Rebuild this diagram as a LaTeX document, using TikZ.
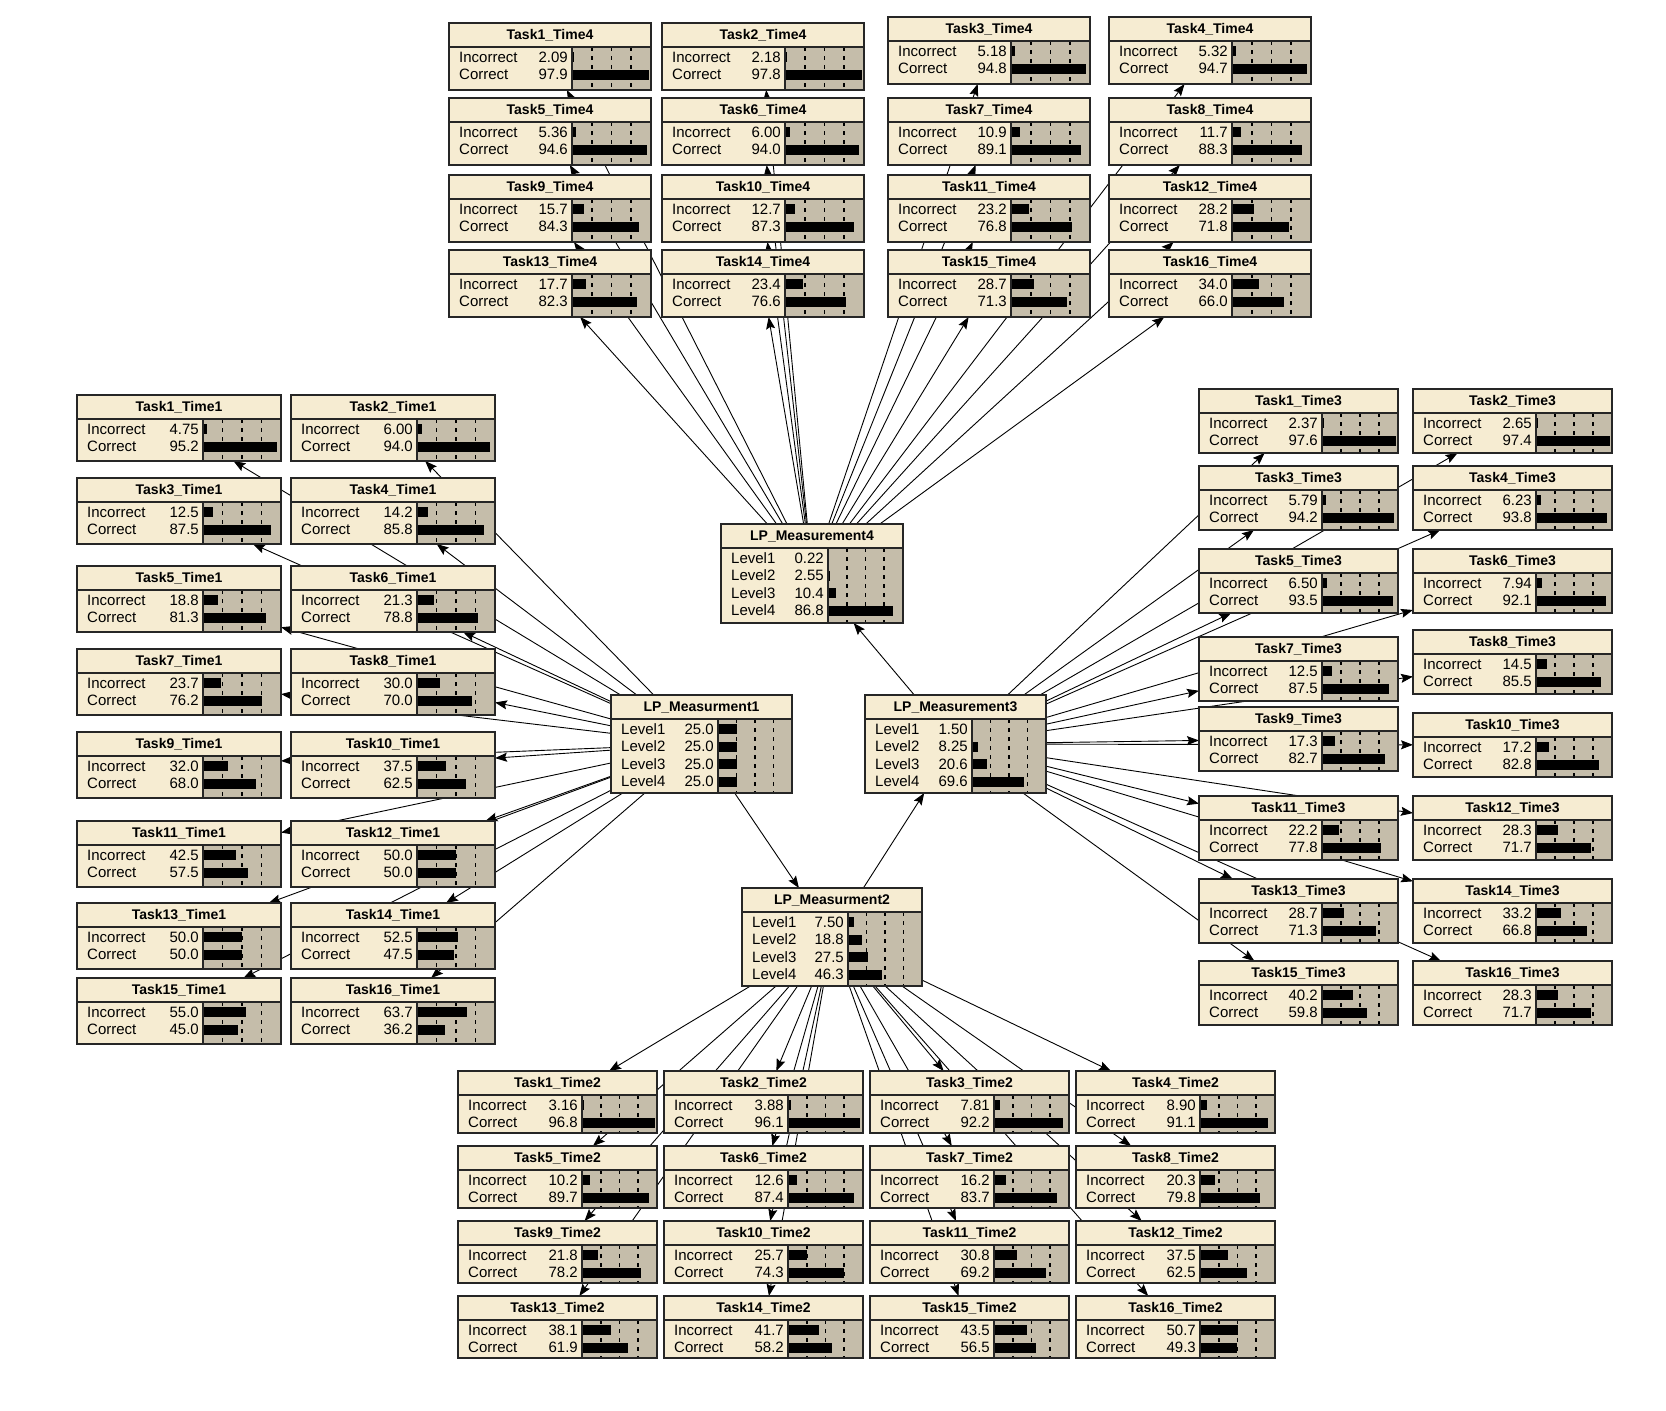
\documentclass[tikz,border=0pt]{standalone}
\usepackage{fontspec}
\setmainfont{Liberation Sans}
\usetikzlibrary{arrows.meta,backgrounds}

\definecolor{nodecream}{HTML}{F6ECD2}
\definecolor{bartan}{HTML}{C5BDAA}

\tikzset{
  bnbox/.style={rectangle,inner sep=0pt,outer sep=0pt,anchor=north west},
  bnframe/.style={draw=black!85,line width=1.4pt},
  bntick/.style={black,line width=1.6pt,dash pattern=on 4pt off 5pt},
  bntitle/.style={inner sep=0pt,font=\fontsize{14}{16}\selectfont\bfseries},
  bnstate/.style={inner sep=0pt,text height=10pt,text depth=0pt,font=\fontsize{15}{17}\selectfont},
  bnlink/.style={-{Stealth[length=12pt,width=9pt,inset=2pt]},line width=0.9pt},
}

% \bnnode{name}{left}{top}{width}{height}{label width}{title}{state/value,...}
\newcommand{\bnnode}[8]{%
  \pgfmathsetmacro{\bnbar}{#4-#6}%
  \node[bnbox,minimum width=#4pt,minimum height=#5pt] (#1) at (#2,#3) {};
  \fill[nodecream] (#2,#3) rectangle ++(#4,#5);
  \fill[bartan] ({#2+#6},{#3+24}) rectangle ({#2+#4},{#3+#5});
  \foreach \k in {1,2,3}
    \draw[bntick] ({#2+#6+\k*\bnbar/4},{#3+24}) -- ({#2+#6+\k*\bnbar/4},{#3+#5});
  \foreach \lbl/\val [count=\r] in {#8} {
    \fill ({#2+#6},{#3+11.5+17.5*\r}) rectangle ++({\val*\bnbar/100},10);
    \node[bnstate,anchor=west] at ({#2+10},{#3+16.5+17.5*\r}) {\lbl};
    \node[bnstate,anchor=east] at ({#2+#6-4},{#3+16.5+17.5*\r}) {\val};
  }
  \draw[bnframe] (#2,{#3+24}) -- ++(#4,0) ({#2+#6},{#3+24}) -- ({#2+#6},{#3+#5});
  \draw[bnframe] (#2,#3) rectangle ++(#4,#5);
  \node[bntitle] at ({#2+#4/2},{#3+12.5}) {#7};
}

\begin{document}
\begin{tikzpicture}[x=1pt,y=-1pt]
\useasboundingbox (0,0) rectangle (1666,1411);

% measurements
\bnnode{lp4}{721}{524}{182}{99}{107}{LP\_Measurement4}{Level1/0.22,Level2/2.55,Level3/10.4,Level4/86.8}
\bnnode{lp1}{611}{695}{181}{98}{107}{LP\_Measurment1}{Level1/25.0,Level2/25.0,Level3/25.0,Level4/25.0}
\bnnode{lp3}{865}{695}{181}{98}{107}{LP\_Measurement3}{Level1/1.50,Level2/8.25,Level3/20.6,Level4/69.6}
\bnnode{lp2}{742}{888}{180}{98}{106}{LP\_Measurment2}{Level1/7.50,Level2/18.8,Level3/27.5,Level4/46.3}

% time 4
\bnnode{time4task1}{449}{23}{202}{67}{123}{Task1\_Time4}{Incorrect/2.09,Correct/97.9}
\bnnode{time4task2}{662}{23}{202}{67}{123}{Task2\_Time4}{Incorrect/2.18,Correct/97.8}
\bnnode{time4task3}{888}{17}{202}{67}{123}{Task3\_Time4}{Incorrect/5.18,Correct/94.8}
\bnnode{time4task4}{1109}{17}{202}{67}{123}{Task4\_Time4}{Incorrect/5.32,Correct/94.7}
\bnnode{time4task5}{449}{98}{202}{67}{123}{Task5\_Time4}{Incorrect/5.36,Correct/94.6}
\bnnode{time4task6}{662}{98}{202}{67}{123}{Task6\_Time4}{Incorrect/6.00,Correct/94.0}
\bnnode{time4task7}{888}{98}{202}{67}{123}{Task7\_Time4}{Incorrect/10.9,Correct/89.1}
\bnnode{time4task8}{1109}{98}{202}{67}{123}{Task8\_Time4}{Incorrect/11.7,Correct/88.3}
\bnnode{time4task9}{449}{175}{202}{67}{123}{Task9\_Time4}{Incorrect/15.7,Correct/84.3}
\bnnode{time4task10}{662}{175}{202}{67}{123}{Task10\_Time4}{Incorrect/12.7,Correct/87.3}
\bnnode{time4task11}{888}{175}{202}{67}{123}{Task11\_Time4}{Incorrect/23.2,Correct/76.8}
\bnnode{time4task12}{1109}{175}{202}{67}{123}{Task12\_Time4}{Incorrect/28.2,Correct/71.8}
\bnnode{time4task13}{449}{250}{202}{67}{123}{Task13\_Time4}{Incorrect/17.7,Correct/82.3}
\bnnode{time4task14}{662}{250}{202}{67}{123}{Task14\_Time4}{Incorrect/23.4,Correct/76.6}
\bnnode{time4task15}{888}{250}{202}{67}{123}{Task15\_Time4}{Incorrect/28.7,Correct/71.3}
\bnnode{time4task16}{1109}{250}{202}{67}{123}{Task16\_Time4}{Incorrect/34.0,Correct/66.0}

% time 1
\bnnode{time1task1}{77}{395}{204}{66}{126}{Task1\_Time1}{Incorrect/4.75,Correct/95.2}
\bnnode{time1task2}{291}{395}{204}{66}{126}{Task2\_Time1}{Incorrect/6.00,Correct/94.0}
\bnnode{time1task3}{77}{478}{204}{66}{126}{Task3\_Time1}{Incorrect/12.5,Correct/87.5}
\bnnode{time1task4}{291}{478}{204}{66}{126}{Task4\_Time1}{Incorrect/14.2,Correct/85.8}
\bnnode{time1task5}{77}{566}{204}{66}{126}{Task5\_Time1}{Incorrect/18.8,Correct/81.3}
\bnnode{time1task6}{291}{566}{204}{66}{126}{Task6\_Time1}{Incorrect/21.3,Correct/78.8}
\bnnode{time1task7}{77}{649}{204}{66}{126}{Task7\_Time1}{Incorrect/23.7,Correct/76.2}
\bnnode{time1task8}{291}{649}{204}{66}{126}{Task8\_Time1}{Incorrect/30.0,Correct/70.0}
\bnnode{time1task9}{77}{732}{204}{66}{126}{Task9\_Time1}{Incorrect/32.0,Correct/68.0}
\bnnode{time1task10}{291}{732}{204}{66}{126}{Task10\_Time1}{Incorrect/37.5,Correct/62.5}
\bnnode{time1task11}{77}{821}{204}{66}{126}{Task11\_Time1}{Incorrect/42.5,Correct/57.5}
\bnnode{time1task12}{291}{821}{204}{66}{126}{Task12\_Time1}{Incorrect/50.0,Correct/50.0}
\bnnode{time1task13}{77}{903}{204}{66}{126}{Task13\_Time1}{Incorrect/50.0,Correct/50.0}
\bnnode{time1task14}{291}{903}{204}{66}{126}{Task14\_Time1}{Incorrect/52.5,Correct/47.5}
\bnnode{time1task15}{77}{978}{204}{66}{126}{Task15\_Time1}{Incorrect/55.0,Correct/45.0}
\bnnode{time1task16}{291}{978}{204}{66}{126}{Task16\_Time1}{Incorrect/63.7,Correct/36.2}

% time 3
\bnnode{time3task1}{1199}{389}{199}{64}{123}{Task1\_Time3}{Incorrect/2.37,Correct/97.6}
\bnnode{time3task2}{1413}{389}{199}{64}{123}{Task2\_Time3}{Incorrect/2.65,Correct/97.4}
\bnnode{time3task3}{1199}{466}{199}{64}{123}{Task3\_Time3}{Incorrect/5.79,Correct/94.2}
\bnnode{time3task4}{1413}{466}{199}{64}{123}{Task4\_Time3}{Incorrect/6.23,Correct/93.8}
\bnnode{time3task5}{1199}{549}{199}{64}{123}{Task5\_Time3}{Incorrect/6.50,Correct/93.5}
\bnnode{time3task6}{1413}{549}{199}{64}{123}{Task6\_Time3}{Incorrect/7.94,Correct/92.1}
\bnnode{time3task7}{1199}{637}{199}{64}{123}{Task7\_Time3}{Incorrect/12.5,Correct/87.5}
\bnnode{time3task8}{1413}{630}{199}{64}{123}{Task8\_Time3}{Incorrect/14.5,Correct/85.5}
\bnnode{time3task9}{1199}{707}{199}{64}{123}{Task9\_Time3}{Incorrect/17.3,Correct/82.7}
\bnnode{time3task10}{1413}{713}{199}{64}{123}{Task10\_Time3}{Incorrect/17.2,Correct/82.8}
\bnnode{time3task11}{1199}{796}{199}{64}{123}{Task11\_Time3}{Incorrect/22.2,Correct/77.8}
\bnnode{time3task12}{1413}{796}{199}{64}{123}{Task12\_Time3}{Incorrect/28.3,Correct/71.7}
\bnnode{time3task13}{1199}{879}{199}{64}{123}{Task13\_Time3}{Incorrect/28.7,Correct/71.3}
\bnnode{time3task14}{1413}{879}{199}{64}{123}{Task14\_Time3}{Incorrect/33.2,Correct/66.8}
\bnnode{time3task15}{1199}{961}{199}{64}{123}{Task15\_Time3}{Incorrect/40.2,Correct/59.8}
\bnnode{time3task16}{1413}{961}{199}{64}{123}{Task16\_Time3}{Incorrect/28.3,Correct/71.7}

% time 2
\bnnode{time2task1}{458}{1071}{199}{62}{124}{Task1\_Time2}{Incorrect/3.16,Correct/96.8}
\bnnode{time2task2}{664}{1071}{199}{62}{124}{Task2\_Time2}{Incorrect/3.88,Correct/96.1}
\bnnode{time2task3}{870}{1071}{199}{62}{124}{Task3\_Time2}{Incorrect/7.81,Correct/92.2}
\bnnode{time2task4}{1076}{1071}{199}{62}{124}{Task4\_Time2}{Incorrect/8.90,Correct/91.1}
\bnnode{time2task5}{458}{1146}{199}{62}{124}{Task5\_Time2}{Incorrect/10.2,Correct/89.7}
\bnnode{time2task6}{664}{1146}{199}{62}{124}{Task6\_Time2}{Incorrect/12.6,Correct/87.4}
\bnnode{time2task7}{870}{1146}{199}{62}{124}{Task7\_Time2}{Incorrect/16.2,Correct/83.7}
\bnnode{time2task8}{1076}{1146}{199}{62}{124}{Task8\_Time2}{Incorrect/20.3,Correct/79.8}
\bnnode{time2task9}{458}{1221}{199}{62}{124}{Task9\_Time2}{Incorrect/21.8,Correct/78.2}
\bnnode{time2task10}{664}{1221}{199}{62}{124}{Task10\_Time2}{Incorrect/25.7,Correct/74.3}
\bnnode{time2task11}{870}{1221}{199}{62}{124}{Task11\_Time2}{Incorrect/30.8,Correct/69.2}
\bnnode{time2task12}{1076}{1221}{199}{62}{124}{Task12\_Time2}{Incorrect/37.5,Correct/62.5}
\bnnode{time2task13}{458}{1296}{199}{62}{124}{Task13\_Time2}{Incorrect/38.1,Correct/61.9}
\bnnode{time2task14}{664}{1296}{199}{62}{124}{Task14\_Time2}{Incorrect/41.7,Correct/58.2}
\bnnode{time2task15}{870}{1296}{199}{62}{124}{Task15\_Time2}{Incorrect/43.5,Correct/56.5}
\bnnode{time2task16}{1076}{1296}{199}{62}{124}{Task16\_Time2}{Incorrect/50.7,Correct/49.3}

% links, behind the boxes
\begin{pgfonlayer}{background}
\foreach \n in {1,...,16} {
  \draw[bnlink] (lp1) -- (time1task\n);
  \draw[bnlink] (lp2) -- (time2task\n);
  \draw[bnlink] (lp3) -- (time3task\n);
  \draw[bnlink] (lp4) -- (time4task\n);
}
\draw[bnlink] (lp1) -- (lp2);
\draw[bnlink] (lp2) -- (lp3);
\draw[bnlink] (lp3) -- (lp4);
\end{pgfonlayer}

\end{tikzpicture}
\end{document}
